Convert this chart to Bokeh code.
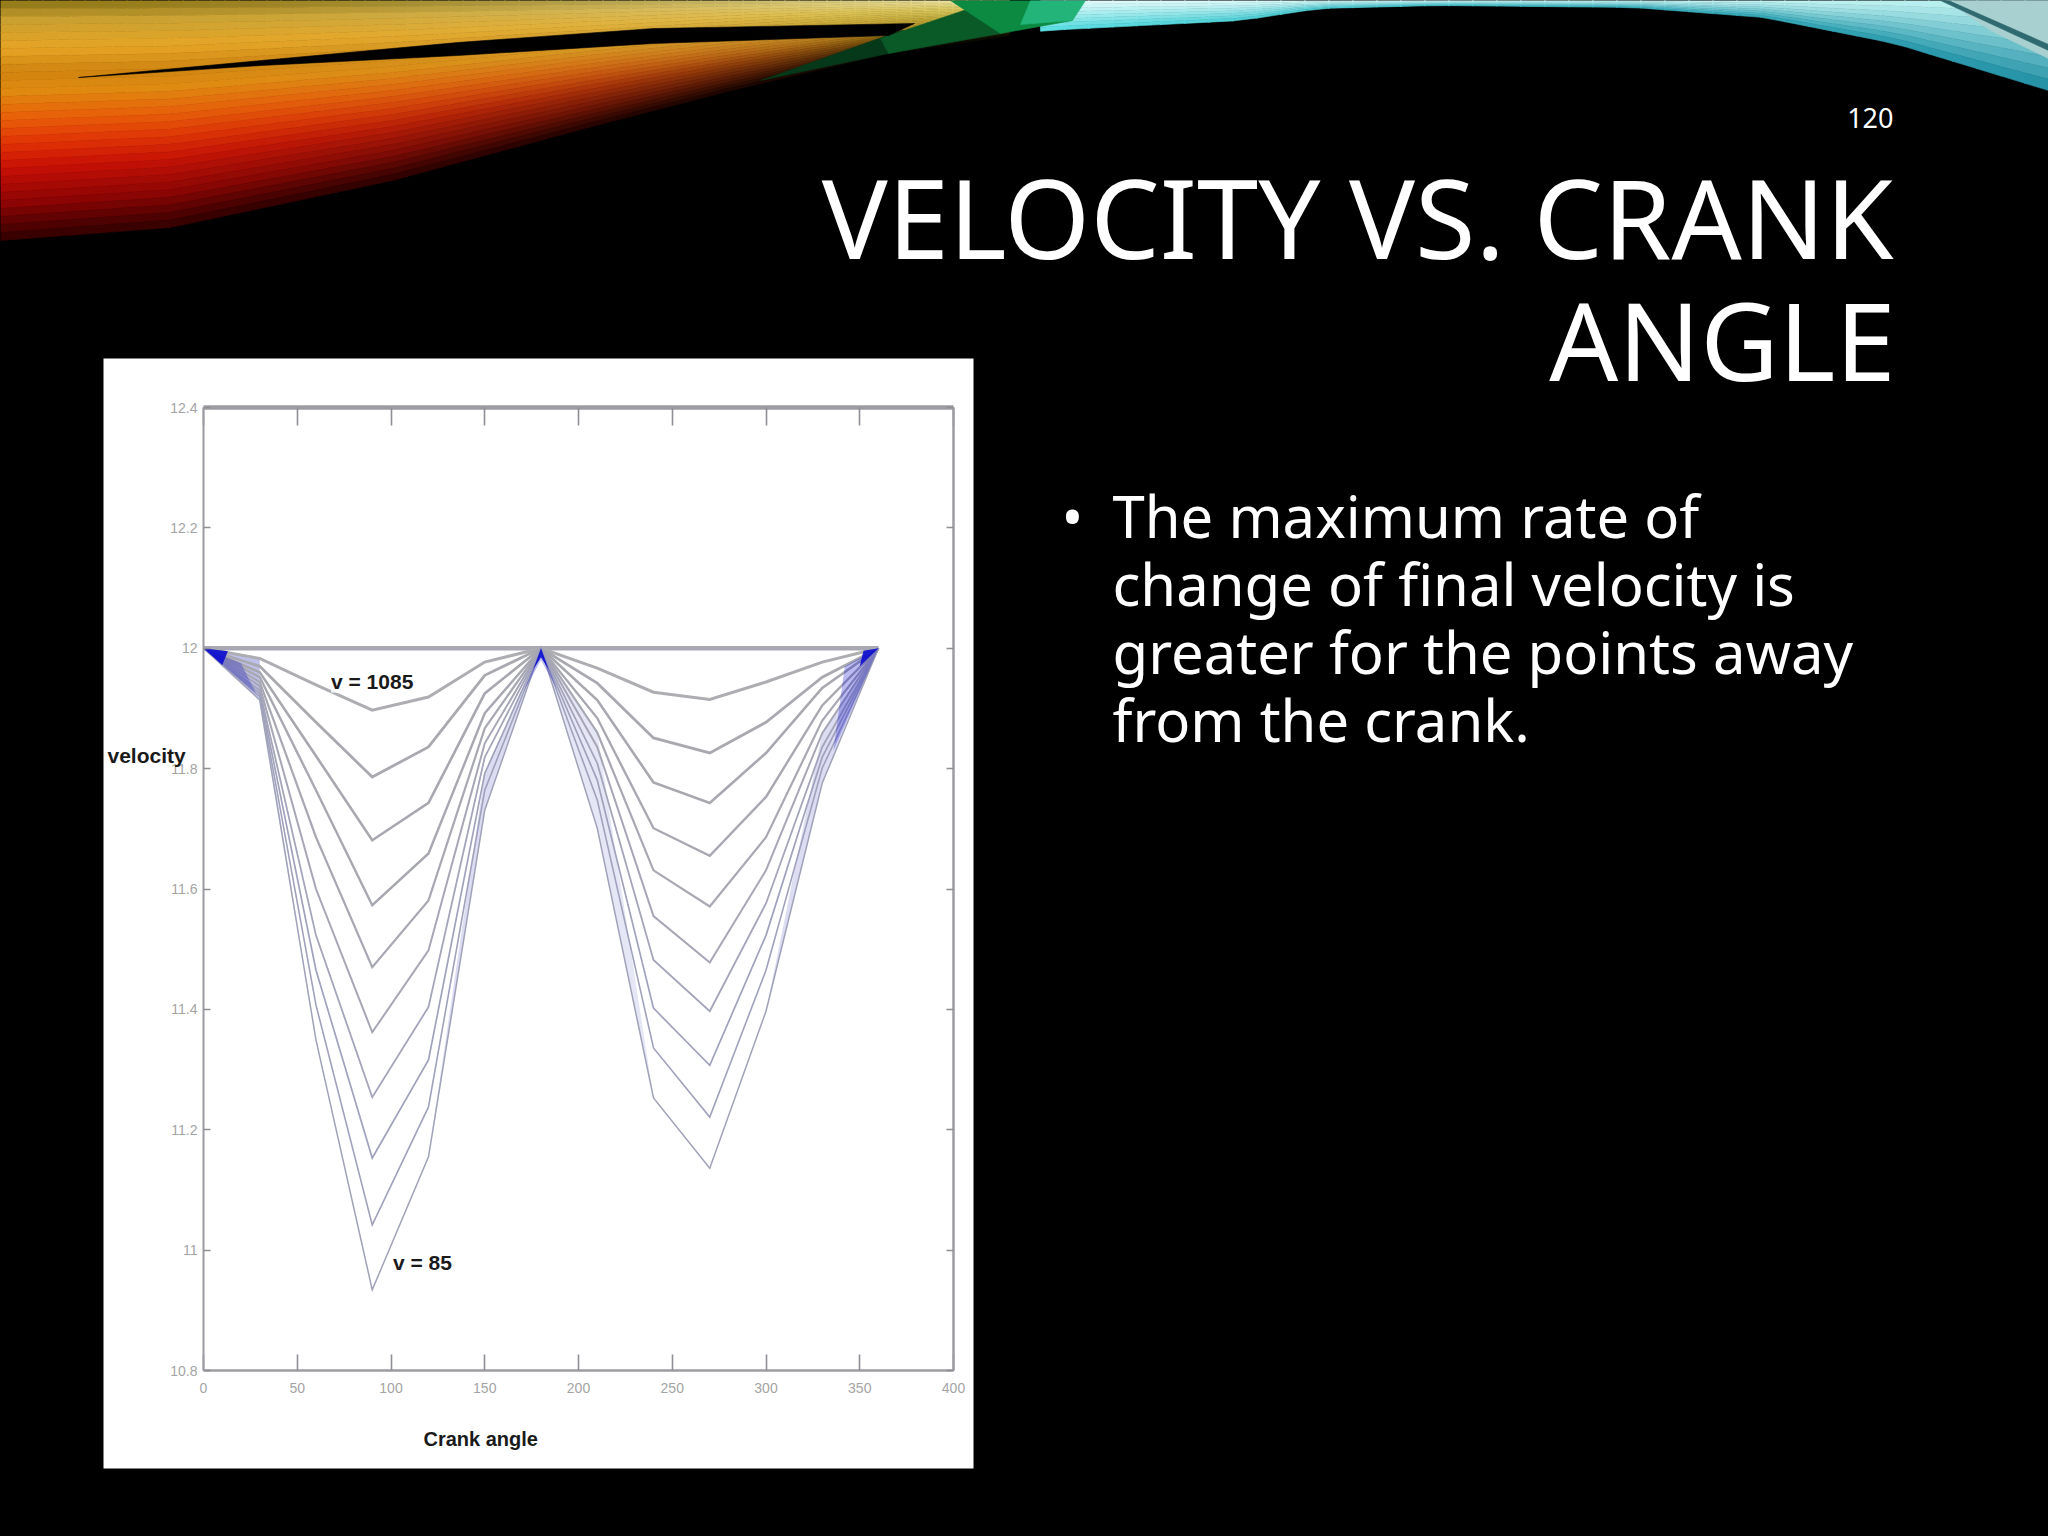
import numpy as np
from bokeh.embed import file_html
from bokeh.models import FixedTicker, Label, LinearAxis, Range1d
from bokeh.plotting import figure
from bokeh.resources import INLINE

# ---------- data ----------
crank_angle = [0, 30, 60, 90, 120, 150, 180, 210, 240, 270, 300, 330, 360]
v_1085 = [12, 11.983, 11.939, 11.897, 11.919, 11.977, 12, 11.967, 11.927, 11.915, 11.944, 11.977, 12]
v_985 = [12, 11.970, 11.877, 11.786, 11.836, 11.955, 12, 11.942, 11.851, 11.826, 11.877, 11.952, 12]
v_885 = [12, 11.960, 11.821, 11.681, 11.743, 11.925, 12, 11.914, 11.777, 11.743, 11.826, 11.934, 12]
v_785 = [12, 11.952, 11.764, 11.573, 11.659, 11.892, 12, 11.884, 11.701, 11.655, 11.753, 11.905, 12]
v_685 = [12, 11.944, 11.686, 11.470, 11.581, 11.867, 12, 11.860, 11.631, 11.571, 11.686, 11.880, 12]
v_585 = [12, 11.937, 11.600, 11.362, 11.498, 11.842, 12, 11.836, 11.555, 11.478, 11.631, 11.859, 12]
v_485 = [12, 11.930, 11.523, 11.254, 11.404, 11.819, 12, 11.809, 11.482, 11.397, 11.576, 11.836, 12]
v_385 = [12, 11.925, 11.465, 11.153, 11.316, 11.792, 12, 11.781, 11.402, 11.307, 11.523, 11.819, 12]
v_285 = [12, 11.920, 11.407, 11.042, 11.238, 11.764, 12, 11.748, 11.336, 11.221, 11.465, 11.801, 12]
v_85 = [12, 11.914, 11.349, 10.934, 11.155, 11.731, 12, 11.701, 11.253, 11.136, 11.397, 11.776, 12]
series = [v_1085, v_985, v_885, v_785, v_685, v_585, v_485, v_385, v_285, v_85]

x_ticks = [0, 50, 100, 150, 200, 250, 300, 350, 400]
y_ticks = [10.8, 11, 11.2, 11.4, 11.6, 11.8, 12, 12.2, 12.4]
y_tick_labels = ["10.8", "11", "11.2", "11.4", "11.6", "11.8", "12", "12.2", "12.4"]
baseline_x = [0, 360]
baseline_y = [12, 12]

title_lines = ["VELOCITY VS. CRANK", "ANGLE"]
body_lines = ["The maximum rate of", "change of final velocity is", "greater for the points away", "from the crank."]
slide_number = "120"

# ---------- page and chart scales ----------
W, H = 2048, 1536
PLOT_L, PLOT_R, PLOT_T, PLOT_B = 203, 953, 407, 1370
XS = (PLOT_R - PLOT_L) / 400
YS = (PLOT_B - PLOT_T) / 1.6

p = figure(width=W, height=H, output_backend="svg", toolbar_location=None,
           x_range=Range1d(0, W), y_range=Range1d(H, 0),
           x_axis_location=None, y_axis_location=None,
           min_border=0)
p.border_fill_color = "#000000"
p.background_fill_color = "#000000"
p.outline_line_color = None
p.grid.visible = False
p.extra_x_ranges["chart"] = Range1d(-PLOT_L / XS, (W - PLOT_L) / XS)
p.extra_y_ranges["chart"] = Range1d(10.8 - (H - PLOT_B) / YS, 12.4 + PLOT_T / YS)
CH = dict(x_range_name="chart", y_range_name="chart")

# ---------- banner ----------
EDGE_X = [0, 170, 392, 588, 731, 888, 1045, 1241, 1319, 1437, 1633, 1763, 1894, 2048]
EDGE_Y = [240, 227, 180, 127, 90, 53, 30, 20, 8, 5, 7, 17, 43, 90]
WARM_S = [0, .08, .2, .3, .38, .5, .6, .7, .85, 1]
WARM_L = ["#8a7216", "#c9a030", "#e6a424", "#cf8410", "#e08a10", "#e85c08", "#e03205", "#c81005", "#8c0404", "#300000"]
WARM_R = ["#e8e2a0", "#e4d88c", "#d8c860", "#cdbc50", "#c0ac40", "#b09c30", "#988820", "#706410", "#383008", "#060600"]


def rgb(h):
    return np.array([int(h[i:i + 2], 16) for i in (1, 3, 5)], float)


def lerp_palette(pal, s):
    arr = np.array([rgb(c) for c in pal])
    return np.array([np.interp(s, WARM_S, arr[:, i]) for i in range(3)])


def hexc(c):
    return "#%02x%02x%02x" % tuple(int(round(v)) for v in np.clip(c, 0, 255))


bx, by, bc = [], [], []


def poly(xs, ys, color):
    bx.append(list(xs))
    by.append(list(ys))
    bc.append(color)


rows = np.linspace(0, 1, 31)
for x0 in range(0, 1000, 14):
    x1 = x0 + 15
    l0, l1 = np.interp([x0, x1], EDGE_X, EDGE_Y)
    t = min(1.0, ((x0 + 7) / 950) ** 2)
    for a, b in zip(rows[:-1], rows[1:]):
        m = (a + b) / 2
        col = (1 - t) * lerp_palette(WARM_L, m) + t * lerp_palette(WARM_R, m)
        poly([x0, x1, x1, x0], [a * l0, a * l1, b * l1, b * l0], hexc(col))

for x0 in range(1040, 2048, 24):
    x1 = min(2048, x0 + 25)
    l0, l1 = np.interp([x0, x1], EDGE_X, EDGE_Y)
    t = (x0 - 1040) / 1000
    top = (1 - t) * rgb("#e4fafa") + t * rgb("#b8f0f0")
    bot = (1 - t) * rgb("#52dce0") + t * rgb("#1a8aa0")
    for a, b in zip(np.arange(0, 1, .125), np.arange(.125, 1.01, .125)):
        c = top + (bot - top) * ((a + b) / 2) ** 1.2
        poly([x0, x1, x1, x0], [a * l0, a * l1, b * l1, b * l0], hexc(c))

# green wedge, darker towards its thin tail
poly([760, 901, 950, 888], [80, 30, 36, 53], "#06381a")
poly([880, 993, 1000, 888], [38, 0, 33, 53], "#0a5a28")
poly([950, 1040, 1072, 1000], [0, 0, 20, 33], "#0c8a42")
poly([1030, 1085, 1072, 1020], [0, 0, 20, 24], "#22b478")
# black sliver across the warm band
poly([78, 261, 457, 653, 914, 888, 653, 457, 261], [77, 60, 42, 28, 23, 35, 43, 55, 65], "#000000")
poly([1946, 2048, 2048, 1990], [0, 0, 58, 30], "#a8d0d0")
poly([1940, 1948, 2048, 2048], [0, 0, 44, 50], "#2f6a70")
p.patches(bx, by, fill_color=bc, line_color=bc, line_width=0.6)

# white picture panel
p.quad(left=[103], right=[973], top=[358], bottom=[1468], fill_color="#ffffff", line_color=None)

# ---------- bundle shading where the lines crowd together ----------
LAV = "#8a8cd8"
p.patch([0, 30, 30], [12, v_1085[1], v_85[1]], color=LAV, alpha=0.55, line_width=0, **CH)
p.patch([30, 30, 60], [v_485[1], v_85[1], v_85[2]], color=LAV, alpha=0.4, line_width=0, **CH)
p.patch([120, 150, 180, 150], [v_85[4], v_385[5], 12, v_85[5]], color=LAV, alpha=0.3, line_width=0, **CH)
p.patch([180, 210, 240, 210], [12, v_685[7], v_85[8], v_85[7]], color=LAV, alpha=0.22, line_width=0, **CH)
p.patch([300, 330, 360, 330], [v_85[10], v_585[11], 12, v_85[11]], color=LAV, alpha=0.3, line_width=0, **CH)

# baseline
p.line(baseline_x, baseline_y, line_color="#a8a8b4", line_width=4.5, **CH)

# ---------- curves ----------
widths = [3, 2.8, 2.6, 2.4, 2.2, 2, 1.8, 1.7, 1.6, 1.5]
colors = ["#adadb2", "#a9a9b0", "#a8a8b0", "#a8a8b2", "#a8a8b4", "#a6a6b6", "#a4a4ba", "#a0a2bc", "#a0a2bc", "#a0a2b8"]
for vals, w, c in zip(series, widths, colors):
    p.line(crank_angle, vals, line_color=c, line_width=w, line_join="miter", **CH)

# blue tips where all the lines meet
BLUE = "#0a0ad0"
halo_left_x, halo_left_y = [0, 20, 28], [12, 11.975, 11.925]
halo_mid_x, halo_mid_y = [180, 171, 180, 189], [12, 11.93, 11.98, 11.93]
halo_right_x, halo_right_y = [360, 342, 336], [12, 11.97, 11.83]
tip_left_x, tip_left_y = [0, 13, 10], [12, 11.995, 11.972]
tip_mid_x, tip_mid_y = [180, 176, 180, 184], [12, 11.965, 11.985, 11.965]
tip_right_x, tip_right_y = [360, 352, 350], [12, 11.996, 11.97]
for hx, hy in [(halo_left_x, halo_left_y), (halo_mid_x, halo_mid_y), (halo_right_x, halo_right_y)]:
    p.patch(hx, hy, color=BLUE, alpha=0.28, line_width=0, **CH)
for tx, ty in [(tip_left_x, tip_left_y), (tip_mid_x, tip_mid_y), (tip_right_x, tip_right_y)]:
    p.patch(tx, ty, color=BLUE, alpha=0.9, line_width=0, **CH)


# ---------- axes, on the chart's own scales ----------
GRAY = "#9c9ca2"
TXT = "#a4a4a4"


def axis(ticks, fixed, width, tick_in, side, standoff=5, labels=False, overrides=None):
    ax = LinearAxis(ticker=FixedTicker(ticks=ticks), fixed_location=fixed,
                    bounds=(min(ticks), max(ticks)),
                    x_range_name="chart", y_range_name="chart")
    ax.axis_line_color = GRAY
    ax.axis_line_width = width
    ax.major_tick_line_color = "#8e8e94"
    ax.major_tick_line_width = 1.6
    ax.major_tick_in = tick_in
    ax.major_tick_out = 0
    ax.minor_tick_line_color = None
    ax.major_label_text_color = TXT if labels else None
    ax.major_label_text_font = "Liberation Sans"
    ax.major_label_text_font_size = "14px" if labels else "0px"
    ax.major_label_standoff = standoff
    if overrides:
        ax.major_label_overrides = overrides
    p.add_layout(ax, side)


axis(x_ticks, 10.8, 2.5, 16, "below", 12, True)
axis(y_ticks, 0, 2, 7, "left", 6, True, dict(zip(y_ticks, y_tick_labels)))
axis(x_ticks, 12.4, 4.5, 18, "above")
axis(y_ticks, 400, 2.5, 7, "right")

# ---------- labels in the picture ----------
BOLD = dict(text_font="Liberation Sans", text_font_style="bold", text_color="#1a1a1a",
            text_baseline="middle")
p.add_layout(Label(x=68, y=11.945, text="v = 1085", text_font_size="21px", background_fill_color="#ffffff",
                   background_fill_alpha=0.75, **BOLD, **CH))
p.add_layout(Label(x=101, y=10.98, text="v = 85", text_font_size="21px", **BOLD, **CH))
p.add_layout(Label(x=107, y=755, text="velocity", text_font_size="21px", **BOLD))
p.add_layout(Label(x=423, y=1438, text="Crank angle", text_font_size="20px", **BOLD))

# ---------- slide text ----------
SLIDE = dict(text_font="Noto Sans", text_color="#ffffff", text_baseline="alphabetic")
p.add_layout(Label(x=1893, y=117, text=slide_number, text_align="right", text_font_size="27px", **SLIDE))
p.add_layout(Label(x=1893, y=215, text=title_lines[0], text_align="right", text_font_size="110px", **SLIDE))
p.add_layout(Label(x=1895, y=339, text=title_lines[1], text_align="right", text_font_size="108px", **SLIDE))
p.add_layout(Label(x=1061, y=515, text="•", text_font_size="58px", **SLIDE))
for line, base in zip(body_lines, [515, 583, 651, 719]):
    p.add_layout(Label(x=1112, y=base, text=line, text_font_size="58px", **SLIDE))

html = file_html(p, INLINE)
html = html.replace("<head>", "<head><style>html,body{background:#000}</style>", 1)
open("out.html", "w").write(html)
